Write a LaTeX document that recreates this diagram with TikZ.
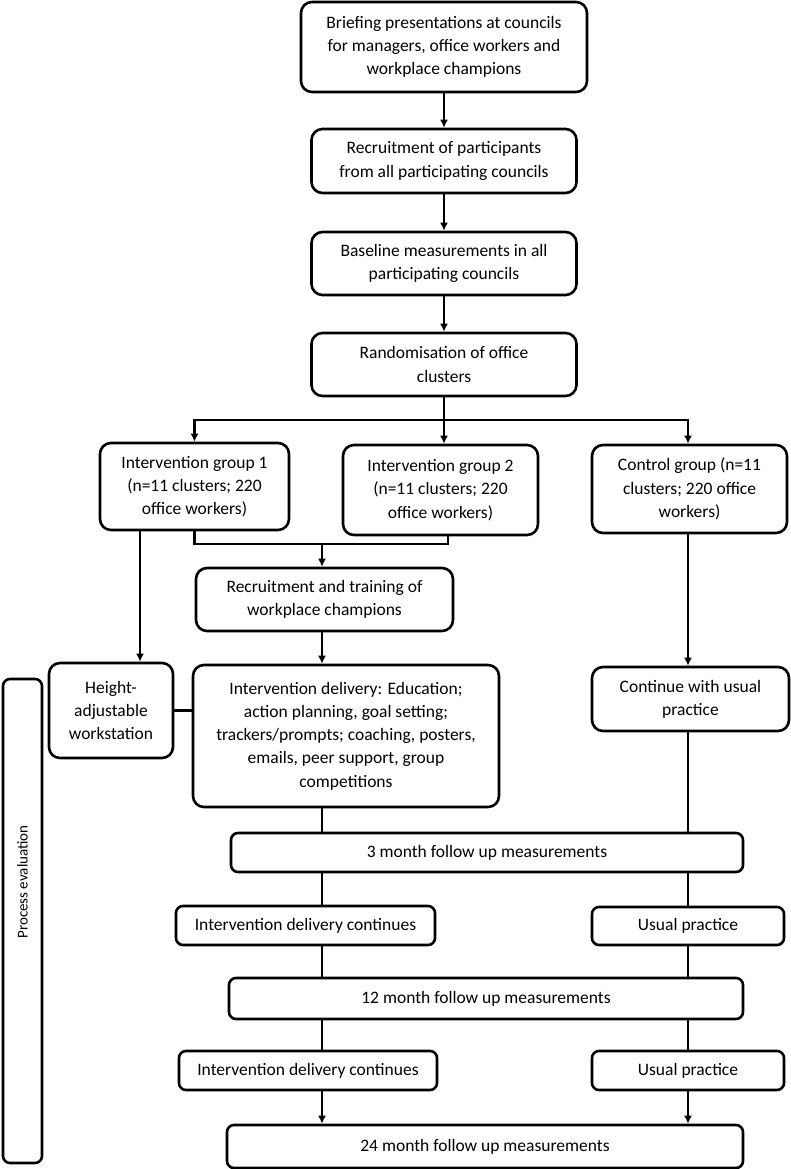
\documentclass[tikz,border=0pt]{standalone}
\usepackage{fontspec}
\setmainfont{Carlito}
\usepackage{tikz}
\usetikzlibrary{
  calc,
  positioning,
  arrows.meta
}

\begin{document}
\begin{tikzpicture}[x=1pt,y=-1pt,> ={Latex[length=8pt,width=8pt]}]
  \tikzset{
    box/.style={
      draw,line width=2.6pt,rounded corners=11pt,align=center,
      inner sep=0pt,font=\fontsize{17.5}{23.3}\selectfont
    },
    small box/.style={box,rounded corners=7pt},
    link/.style={line width=2.2pt},
  }
  \useasboundingbox (0,0) rectangle (790,1169);

  \node[box,minimum width=286,minimum height=90] (brief) at (444,47)
    {Briefing presentations at councils\\for managers, office workers and\\workplace champions};
  \node[box,minimum width=265,minimum height=64] (recruit) at (444,161)
    {Recruitment of participants\\from all participating councils};
  \node[box,minimum width=265,minimum height=63] (base) at (444,263.5)
    {Baseline measurements in all\\participating councils};
  \node[box,minimum width=265,minimum height=63] (rand) at (444,364.5)
    {Randomisation of office\\clusters};

  \node[box,minimum width=189,minimum height=87] (ig1) at (194.5,486.5)
    {Intervention group 1\\(n=11 clusters; 220\\office workers)};
  \node[box,minimum width=195,minimum height=90] (ig2) at (440.5,490)
    {Intervention group 2\\(n=11 clusters; 220\\office workers)};
  \node[box,minimum width=195,minimum height=88] (ctrl) at (689.5,489)
    {Control group (n=11\\clusters; 220 office\\workers)};

  \node[box,minimum width=257,minimum height=63] (train) at (324.5,599.5)
    {Recruitment and training of\\workplace champions};
  \node[box,minimum width=124,minimum height=95] (hgt) at (111,710.5)
    {Height-\\adjustable\\workstation};
  \node[box,minimum width=306,minimum height=142] (deliv) at (346,736)
    {Intervention delivery: Education;\\action planning, goal setting;\\trackers/prompts; coaching, posters,\\emails, peer support, group\\competitions};
  \node[box,minimum width=197,minimum height=64] (cwup) at (690.5,699)
    {Continue with usual\\practice};

  \node[small box,minimum width=512,minimum height=39] (m3) at (487,852.5)
    {3 month follow up measurements};
  \node[small box,minimum width=259,minimum height=39] (idc1) at (305.5,925.5)
    {Intervention delivery continues};
  \node[small box,minimum width=192,minimum height=38] (up1) at (688,926)
    {Usual practice};
  \node[small box,minimum width=514,minimum height=41] (m12) at (486,998.5)
    {12 month follow up measurements};
  \node[small box,minimum width=258,minimum height=39] (idc2) at (308,1070.5)
    {Intervention delivery continues};
  \node[small box,minimum width=192,minimum height=39] (up2) at (688,1070.5)
    {Usual practice};
  \node[small box,minimum width=516,minimum height=43] (m24) at (485,1146.5)
    {24 month follow up measurements};

  \node[small box,minimum width=39,minimum height=484] (proc) at (22.5,921) {};
  \node[font=\fontsize{15}{20}\selectfont,rotate=90] (proclabel) at (22.5,882)
    {Process evaluation};

  \coordinate (split) at (444,420);
  \coordinate (join) at (322,544);
  \coordinate (joinr) at (448,544);
  \coordinate (lcol) at (140,0);
  \coordinate (rcol) at (688,0);

  \draw[link,->] (brief) -- (recruit);
  \draw[link,->] (recruit) -- (base);
  \draw[link,->] (base) -- (rand);
  \draw[link] (rand.south) -- (split);
  \draw[link,->] (split) -- (split |- ig2.north);
  \draw[link,->] (split) -| (ig1.north);
  \draw[link,->] (split) -| (rcol |- ctrl.north);

  \draw[link] (ig1.south) |- (joinr) -- (joinr |- ig2.south);
  \draw[link,->] (join) -- (join |- train.north);
  \draw[link,->] (join |- train.south) -- (join |- deliv.north);
  \draw[link,->] (lcol |- ig1.south) -- (lcol |- hgt.north);
  \draw[link] (hgt.east) -- (hgt.east -| deliv.west);
  \draw[link,->] (rcol |- ctrl.south) -- (rcol |- cwup.north);

  \draw[link] (join |- deliv.south) -- (join |- m3.north);
  \draw[link] (rcol |- cwup.south) -- (rcol |- m3.north);
  \draw[link] (join |- m3.south) -- (join |- idc1.north);
  \draw[link] (rcol |- m3.south) -- (rcol |- up1.north);
  \draw[link] (join |- idc1.south) -- (join |- m12.north);
  \draw[link] (rcol |- up1.south) -- (rcol |- m12.north);
  \draw[link] (join |- m12.south) -- (join |- idc2.north);
  \draw[link] (rcol |- m12.south) -- (rcol |- up2.north);
  \draw[link,->] (join |- idc2.south) -- (join |- m24.north);
  \draw[link,->] (rcol |- up2.south) -- (rcol |- m24.north);
\end{tikzpicture}
\end{document}
